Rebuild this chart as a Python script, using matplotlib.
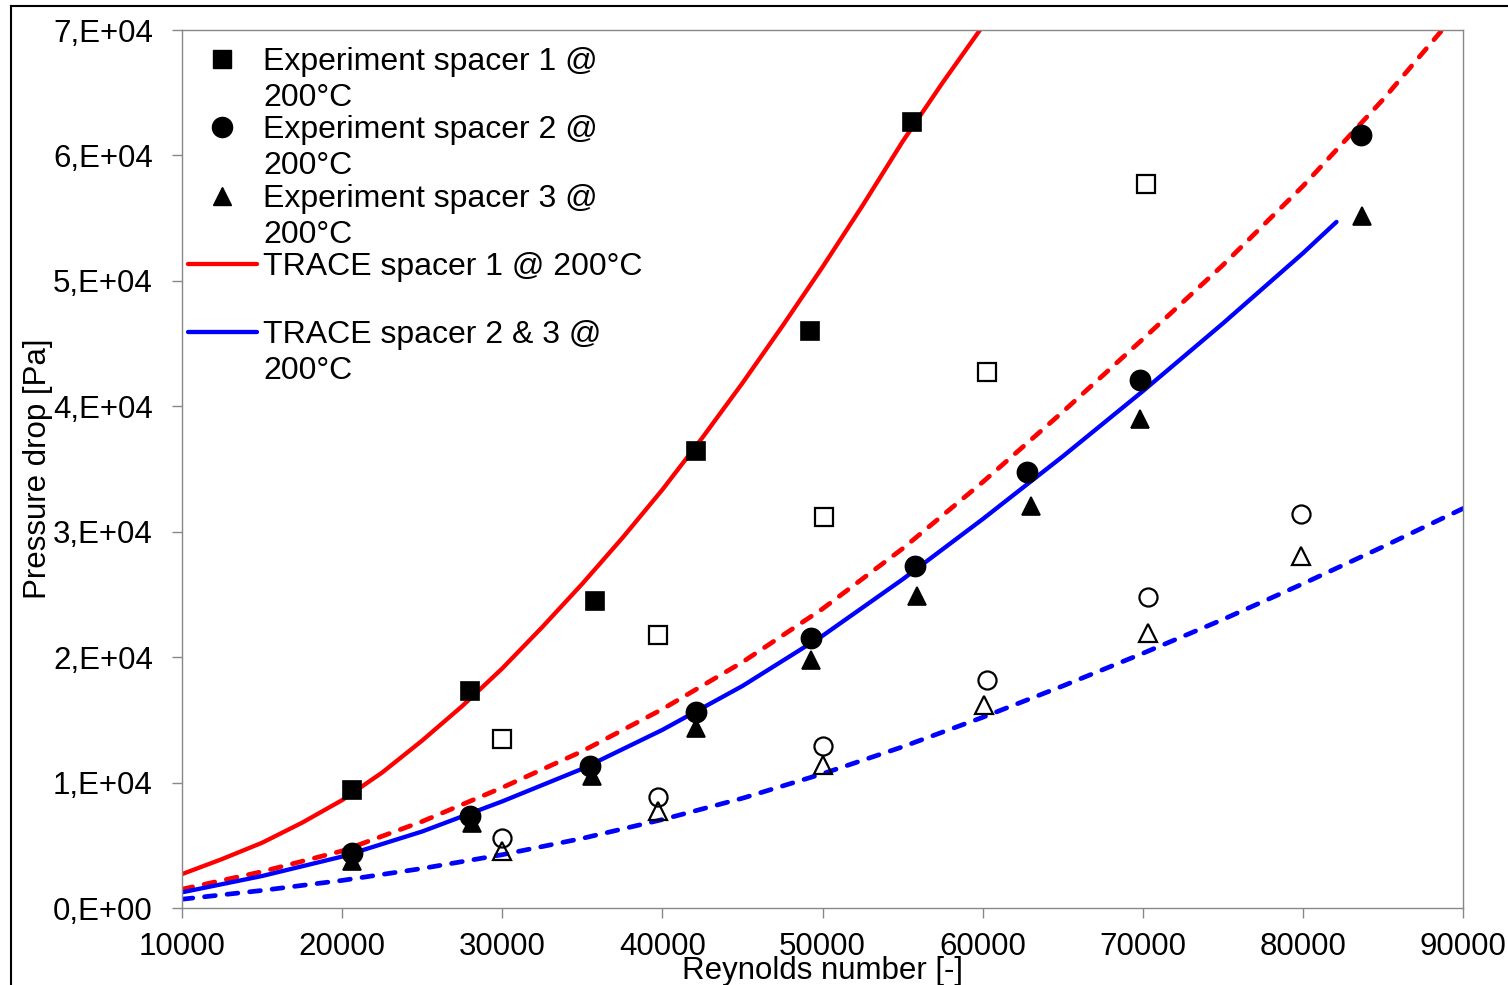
import matplotlib
matplotlib.use("Agg")
import matplotlib.pyplot as plt
from matplotlib.lines import Line2D
from matplotlib.ticker import MultipleLocator, FuncFormatter

plt.rcParams['font.family'] = ['Liberation Sans', 'DejaVu Sans']
FS = 22.5
FS_LEG = 23

# Experiments, filled symbols (in legend)
re_exp1 = [20600, 28000, 35800, 42100, 49200, 55600]
dp_exp1 = [9400, 17300, 24500, 36400, 46000, 62700]
re_exp2 = [20600, 28000, 35500, 42100, 49300, 55800, 62800, 69800, 83600]
dp_exp2 = [4400, 7300, 11300, 15600, 21500, 27300, 34800, 42100, 61600]
re_exp3 = [20600, 28100, 35600, 42100, 49300, 55900, 63000, 69800, 83700]
dp_exp3 = [3750, 6800, 10500, 14350, 19800, 24900, 32050, 39000, 55200]

# second measurement set, open symbols
re_open1 = [30000, 39700, 50100, 60300, 70200]
dp_open1 = [13500, 21800, 31200, 42700, 57700]
re_open2 = [30000, 39700, 50000, 60300, 70300, 79900]
dp_open2 = [5600, 8850, 12900, 18200, 24800, 31400]
re_open3 = [30000, 39700, 50000, 60100, 70300, 79900]
dp_open3 = [4550, 7750, 11400, 16200, 21900, 28050]

# TRACE results
re_trace1 = [10000, 12500, 15000, 17500, 20000, 22500, 25000, 27500, 30000, 32500,
             35000, 37500, 40000, 42500, 45000, 47500, 50000, 52500, 55000, 57500, 60000]
dp_trace1 = [2700, 3900, 5200, 6800, 8600, 10800, 13350, 16100, 19100, 22400,
             25850, 29500, 33350, 37500, 41850, 46400, 51100, 56000, 61100, 65800, 70300]
re_trace1_d = [10000, 15000, 20000, 25000, 30000, 35000, 40000, 45000, 50000,
               55000, 60000, 65000, 70000, 75000, 80000, 85000, 90000]
dp_trace1_d = [1500, 2900, 4550, 6900, 9600, 12500, 15850, 19600, 23850,
               28650, 33950, 39550, 45350, 51250, 57550, 64450, 71950]
re_trace23 = [10000, 15000, 20000, 25000, 30000, 35000, 40000, 45000, 50000,
              55000, 60000, 65000, 70000, 75000, 80000, 82100]
dp_trace23 = [1250, 2550, 4100, 6100, 8500, 11100, 14200, 17700, 21700,
              26200, 31000, 36000, 41200, 46600, 52200, 54700]
re_trace23_d = [10000, 15000, 20000, 25000, 30000, 35000, 40000, 45000, 50000,
                55000, 60000, 65000, 70000, 75000, 80000, 85000, 90000]
dp_trace23_d = [700, 1400, 2200, 3150, 4250, 5550, 7050, 8750, 10700,
                12850, 15200, 17700, 20300, 23000, 25850, 28800, 31850]

RED = '#FF0000'
BLUE = '#0000FF'
GREY = '#888888'

W, H = 1508, 985
fig = plt.figure(figsize=(W / 100, H / 100), dpi=100)
ax = fig.add_axes([182 / W, 77 / H, 1281 / W, 878 / H])

solid = dict(lw=3.1, solid_capstyle='round', solid_joinstyle='round', zorder=2)
dashed = dict(lw=3.4, dashes=(2.3, 2.5), dash_capstyle='round', zorder=2)
ax.plot(re_trace1, dp_trace1, color=RED, **solid)
ax.plot(re_trace1_d, dp_trace1_d, color=RED, **dashed)
ax.plot(re_trace23, dp_trace23, color=BLUE, **solid)
ax.plot(re_trace23_d, dp_trace23_d, color=BLUE, **dashed)

filled = dict(ls='none', mfc='k', mec='k', mew=1.2, zorder=4)
hollow = dict(ls='none', mfc='none', mec='k', mew=1.6, zorder=3)

ax.plot(re_exp2, dp_exp2, marker='o', ms=14.5, **filled)
ax.plot(re_exp3, dp_exp3, marker='^', ms=13.5, **filled)
ax.plot(re_exp1, dp_exp1, marker='s', ms=13.5, **filled)
ax.plot(re_open2, dp_open2, marker='o', ms=13, **hollow)
ax.plot(re_open3, dp_open3, marker='^', ms=13.5, **hollow)
ax.plot(re_open1, dp_open1, marker='s', ms=13, **hollow)

ax.set_xlim(10000, 90000)
ax.set_ylim(0, 70000)
ax.xaxis.set_major_locator(MultipleLocator(10000))
ax.yaxis.set_major_locator(MultipleLocator(10000))


def excel_sci(v, pos):
    if v == 0:
        return '0,E+00'
    return '%d,E+04' % round(v / 1e4)


ax.yaxis.set_major_formatter(FuncFormatter(excel_sci))
ax.xaxis.set_major_formatter(FuncFormatter(lambda v, pos: '%d' % v))

for s in ax.spines.values():
    s.set_color(GREY)
    s.set_linewidth(1.0)
ax.tick_params(direction='out', length=7, width=1.0, color=GREY, labelsize=FS)
ax.tick_params(axis='x', pad=10.5)
ax.tick_params(axis='y', pad=14)

ax.set_xlabel('Reynolds number [-]', fontsize=FS)
ax.xaxis.set_label_coords(0.5, -0.055)
ax.set_ylabel('Pressure drop [Pa]', fontsize=FS)
ax.yaxis.set_label_coords(-0.101, 0.5)


# legend laid out by hand so that symbols sit on the first text line
def axfrac(px, py):
    return (px - 182) / 1281, (908 - py) / 878


line_gap = 36
entries = [
    (dict(marker='s', ms=13.5, mfc='k', mec='k'), ['Experiment spacer 1 @', '200°C'], 59),
    (dict(marker='o', ms=14.5, mfc='k', mec='k'), ['Experiment spacer 2 @', '200°C'], 127),
    (dict(marker='^', ms=13.5, mfc='k', mec='k'), ['Experiment spacer 3 @', '200°C'], 196),
    (dict(color=RED, lw=3.1), ['TRACE spacer 1 @ 200°C'], 264),
    (dict(color=BLUE, lw=3.1), ['TRACE spacer 2 & 3 @', '200°C'], 332),
]
for style, lines, yc in entries:
    if 'marker' in style:
        hx, hy = axfrac(222, yc)
        ax.plot([hx], [hy], ls='none', transform=ax.transAxes, clip_on=False, **style)
    else:
        x0, hy = axfrac(188, yc)
        x1, _ = axfrac(257, yc)
        ax.plot([x0, x1], [hy, hy], transform=ax.transAxes, clip_on=False,
                solid_capstyle='round', **style)
    for k, txt in enumerate(lines):
        tx, ty = axfrac(263, yc + k * line_gap + 11)
        ax.text(tx, ty, txt, transform=ax.transAxes, fontsize=FS_LEG,
                ha='left', va='baseline')

# outer frame
fx, fy = 11 / W, 1 - 6 / H
fig.add_artist(Line2D([fx, fx], [0, fy], color='k', lw=1.5, transform=fig.transFigure))
fig.add_artist(Line2D([fx, 1], [fy, fy], color='k', lw=1.5, transform=fig.transFigure))

fig.savefig('out.png', dpi=100)
